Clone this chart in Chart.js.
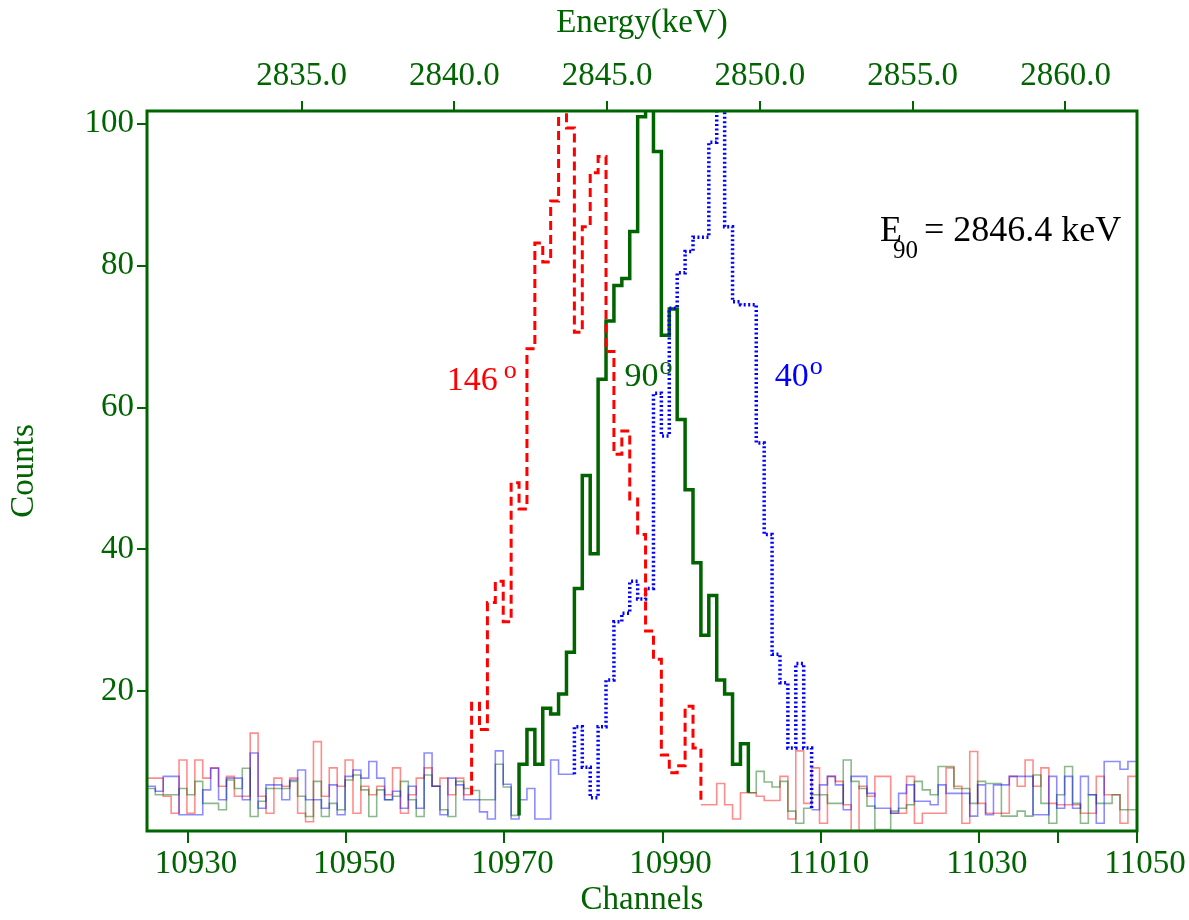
<!DOCTYPE html>
<html>
<head>
<meta charset="utf-8">
<script src="https://cdn.jsdelivr.net/npm/chart.js@4.4.1/dist/chart.umd.min.js"></script>
<style>
  html, body { margin: 0; padding: 0; background: #fff; }
</style>
</head>
<body>
<canvas id="spectrum" width="1189" height="920"></canvas>
<script>
// channels 10925 .. 11049, one count per channel
const FIRST_CHANNEL = 10925;
const BIN_SHIFT = -0.15; // bin edges sit a little left of the channel number

const counts146 = [
  7.75, 7.75, 5.2, 2.8, 10.3, 2.8, 10.3, 7.75, 9.2, 6.6, 8, 5.2, 5.2, 14.1, 5.2, 2.8, 7.75, 6.6, 7.75, 2.8,
  1.6, 12.9, 5.2, 9.2, 6.6, 10.3, 2.8, 6.6, 5.4, 6.6, 5.4, 9.2, 2.8, 5.4, 7.75, 9.2, 6.6, 7.75, 5.4, 7.75, 5.4,
  18.3, 14.6, 32.5, 35.5, 29.8, 49.4, 45.7, 68.3, 83.2, 80.5, 89.1, 102, 99.4, 70.6, 85.5, 93.1, 95.4, 67.9,
  53.4, 56.7, 47.1, 42.1, 28.5, 24.5, 11, 8.5, 9.5, 17.9, 12,
  4, 4, 7, 4, 2, 5.7, 5.7, 5.2, 4.6, 4.6, 8, 2, 11.6, 4.2, 9.2, 1.4, 8, 7.3, 4, 0.3,
  6.6, 5.2, 8, 8, 2.8, 2.8, 8, 1.4, 2.8, 2.8, 2.8, 9.2, 6.6, 1.4, 11.5, 4.2, 2.8, 2.8, 2.8, 8,
  6.6, 10.3, 6.6, 9.2, 4.2, 4, 4, 4, 2.8, 2.8, 8, 5.4, 5.4, 1.4, 8
];
const counts90 = [
  6.3, 5.4, 5.4, 5.4, 6.3, 5.4, 7.3, 4.2, 4.2, 3.3, 7.5, 6.3, 9.15, 2.35, 4.5, 6.3, 6.3, 6.3, 7.3, 5.2,
  2.35, 7.3, 2.35, 4.2, 3.3, 7.5, 8.2, 6.1, 2.35, 6.1, 4.7, 5.2, 7.3, 4.7, 2.35, 8.2, 6.6, 3.3, 2.35, 7.3, 6.3,
  6, 4.7, 4.7, 9.7, 6.5, 2.5,
  9.7, 14.6, 9.7, 17.6, 16.8, 19.6, 25.5, 34.5, 50.4, 39.4, 64, 72.2, 77.2, 78.2, 84.8, 101, 102, 96.1,
  70.2, 73.9, 58.3, 48.4, 38.1, 27.9, 33.5, 21.6, 19.6, 9.7, 12.6,
  5.7, 8.7, 7.2, 6.5, 7.3, 3.1, 1.4, 3.5, 5.4, 5.4, 4.2, 4.2, 10.3, 7.3, 6.3, 3.8, 0.5, 0.5, 3.1, 3.5,
  4, 7.3, 6.1, 5.4, 9.4, 9.4, 6.3, 6.3, 4.2, 7.3, 7, 7, 2.4, 2.4, 3.1, 2.4, 8.2, 4.2, 1.4, 5.4,
  9.4, 4.2, 1.4, 5.4, 4.2, 4.2, 5.4, 3.3, 3.3
];
const counts40 = [
  6.6, 5.9, 8, 8, 2.6, 2.6, 2.6, 6.1, 9.15, 4.7, 7.75, 7.75, 4.7, 11.3, 3.5, 6.8, 6.8, 4.7, 7.5, 8.9,
  4.7, 4.7, 3.5, 6.8, 2.6, 8, 8.9, 7.75, 10.1, 7.75, 4.7, 5.9, 3.5, 6.6, 3.5, 11.3, 6.6, 2.6, 7.75, 6.8, 4.7,
  4.7, 3, 2, 11.6, 6.9, 2, 4.7, 6.3, 2, 2, 10.3, 8.3, 8.3,
  15, 9.3, 5, 15, 21.6, 29.8, 31, 35.5, 33, 34.5, 62, 56, 74, 79, 82, 84, 84, 97.4, 102, 85.5,
  74.9, 74.5, 74.5, 55, 42.1, 25.2, 21.2, 12, 23.9, 12,
  3.3, 6.8, 8, 6.8, 3.3, 8, 8, 5.6, 3.5, 3.5, 2.8, 5.6, 6.8, 4.5, 4.5, 4, 6.8, 5.6, 5.6, 5.6,
  2.4, 6.8, 2.6, 6.8, 6.8, 8, 8, 8, 2.6, 2.6, 8, 3.5, 8, 3.5, 8, 5.4, 1.4, 10.1, 10.1, 9, 10.1
];

// channels drawn with the heavy line
const peak146 = [10966, 10994];
const peak90 = [10972, 11000];
const peak40 = [10979, 11008];

const channelTicks = [10930, 10950, 10970, 10990, 11010, 11030, 11040, 11050];
const energyTicks = [2835, 2840, 2845, 2850, 2855, 2860];
const countTicks = [20, 40, 60, 80, 100];

const GREEN = '#006400';
const FONT = '"Liberation Serif", "DejaVu Serif", serif';

function edge(ch) { return ch + BIN_SHIFT; }
function val(arr, ch) { return arr[ch - FIRST_CHANNEL]; }

// left-edge points, stepped 'before' draws each bin flat up to the next edge
function stepSeg(arr, lo, hi, closeY) {
  const pts = [];
  for (let ch = lo; ch <= hi; ch++) pts.push({ x: edge(ch), y: val(arr, ch) });
  pts.push({ x: edge(hi + 1), y: closeY });
  return pts;
}

function thinLine(arr, peak) {
  const last = FIRST_CHANNEL + arr.length - 1;
  const left = stepSeg(arr, FIRST_CHANNEL, peak[0] - 1, val(arr, peak[0] - 1));
  const right = stepSeg(arr, peak[1] + 1, last, val(arr, last));
  return left.concat([{ x: edge(peak[0]) + 0.5, y: null }], right);
}

function heavyLine(arr, peak) {
  const start = [{ x: edge(peak[0]), y: val(arr, peak[0] - 1) }];
  return start.concat(stepSeg(arr, peak[0], peak[1], val(arr, peak[1] + 1)));
}

const lineBase = { stepped: true, pointRadius: 0, fill: false, spanGaps: false, tension: 0 };

const datasets = [
  Object.assign({}, lineBase, { label: '146 thin', data: thinLine(counts146, peak146), borderColor: 'rgba(255,0,0,0.45)', borderWidth: 1.6, order: 5 }),
  Object.assign({}, lineBase, { label: '90 thin', data: thinLine(counts90, peak90), borderColor: 'rgba(0,100,0,0.45)', borderWidth: 1.6, order: 4 }),
  Object.assign({}, lineBase, { label: '40 thin', data: thinLine(counts40, peak40), borderColor: 'rgba(0,0,255,0.45)', borderWidth: 1.6, order: 3 }),
  Object.assign({}, lineBase, { label: '90', data: heavyLine(counts90, peak90), borderColor: GREEN, borderWidth: 3.5, order: 2 }),
  Object.assign({}, lineBase, { label: '40', data: heavyLine(counts40, peak40), borderColor: '#0000ff', borderWidth: 3.5, borderDash: [2, 2.5], order: 1 }),
  Object.assign({}, lineBase, { label: '146', data: heavyLine(counts146, peak146), borderColor: '#ff0000', borderWidth: 3, borderDash: [9, 5], order: 0 })
];

// frame round the plot
const framePlugin = {
  id: 'frame',
  afterDatasetsDraw(chart) {
    const a = chart.chartArea;
    const ctx = chart.ctx;
    ctx.save();
    ctx.strokeStyle = GREEN;
    ctx.lineWidth = 3;
    ctx.strokeRect(a.left, a.top, a.right - a.left, a.bottom - a.top);
    ctx.restore();
  }
};

// angle labels and the energy note
const notesPlugin = {
  id: 'notes',
  afterDraw(chart) {
    const ctx = chart.ctx;
    const xs = chart.scales.x, ys = chart.scales.y;
    function put(text, ch, cnt, size, color, dx, dy) {
      ctx.font = size + 'px ' + FONT;
      ctx.fillStyle = color;
      ctx.textBaseline = 'alphabetic';
      ctx.textAlign = 'left';
      const x = xs.getPixelForValue(ch) + (dx || 0);
      const y = ys.getPixelForValue(cnt) + (dy || 0);
      ctx.fillText(text, x, y);
      return x + ctx.measureText(text).width;
    }
    ctx.save();
    let e = put('146', 10962.7, 62.4, 34, '#ff0000');
    put('o', 10962.7, 62.4, 26, '#ff0000', e - xs.getPixelForValue(10962.7) + 6, -12);
    e = put('90', 10985.2, 63.1, 34, GREEN);
    put('o', 10985.2, 63.1, 26, GREEN, e - xs.getPixelForValue(10985.2) + 1, -12);
    e = put('40', 11004.2, 63.1, 34, '#0000ff');
    put('o', 11004.2, 63.1, 26, '#0000ff', e - xs.getPixelForValue(11004.2) + 1, -12);
    put('E', 11017.5, 83.5, 36, '#000');
    put('90', 11017.5, 83.5, 25, '#000', 13, 17);
    put('= 2846.4 keV', 11017.5, 83.5, 36, '#000', 44, 0);
    ctx.restore();
  }
};

const tickFont = { family: FONT, size: 33 };

new Chart(document.getElementById('spectrum'), {
  type: 'line',
  data: { datasets: datasets },
  plugins: [framePlugin, notesPlugin],
  options: {
    responsive: false,
    animation: false,
    events: [],
    layout: { padding: { left: 0, right: 52, top: 0, bottom: 0 } },
    plugins: { legend: { display: false }, tooltip: { enabled: false } },
    scales: {
      x: {
        type: 'linear', position: 'bottom', min: 10924.8, max: 11050,
        afterBuildTicks: s => { s.ticks = channelTicks.map(v => ({ value: v })); },
        afterFit: s => { s.height = 89; },
        ticks: { callback: v => (v === 11040 ? '' : String(v)), font: tickFont, color: GREEN, labelOffset: 8, padding: 2, maxRotation: 0, autoSkip: false },
        grid: { drawOnChartArea: false, tickLength: 12, color: GREEN, lineWidth: 2 },
        border: { display: false },
        title: { display: true, text: 'Channels', color: GREEN, font: { family: FONT, size: 33, lineHeight: 1.2 }, padding: { top: 0, bottom: 0 } }
      },
      x2: {
        type: 'linear', position: 'top', min: 2829.94, max: 2862.34,
        afterBuildTicks: s => { s.ticks = energyTicks.map(v => ({ value: v })); },
        afterFit: s => { s.height = 111; },
        ticks: { callback: v => v.toFixed(1), font: tickFont, color: GREEN, padding: 5, maxRotation: 0, autoSkip: false },
        grid: { drawOnChartArea: false, tickLength: 10, color: GREEN, lineWidth: 2 },
        border: { display: false },
        title: { display: true, text: 'Energy(keV)', color: GREEN, font: { family: FONT, size: 33, lineHeight: 1.2 }, padding: { top: 4, bottom: 0 } }
      },
      y: {
        type: 'linear', position: 'left', min: 0.3, max: 101.8,
        afterBuildTicks: s => { s.ticks = countTicks.map(v => ({ value: v })); },
        afterFit: s => { s.width = 147; },
        ticks: { font: tickFont, color: GREEN, padding: 3 },
        grid: { drawOnChartArea: false, tickLength: 10, color: GREEN, lineWidth: 2 },
        border: { display: false },
        title: { display: true, text: 'Counts', color: GREEN, font: { family: FONT, size: 33, lineHeight: 1.2 }, padding: { top: 5, bottom: 0 } }
      }
    }
  }
});
</script>
</body>
</html>
